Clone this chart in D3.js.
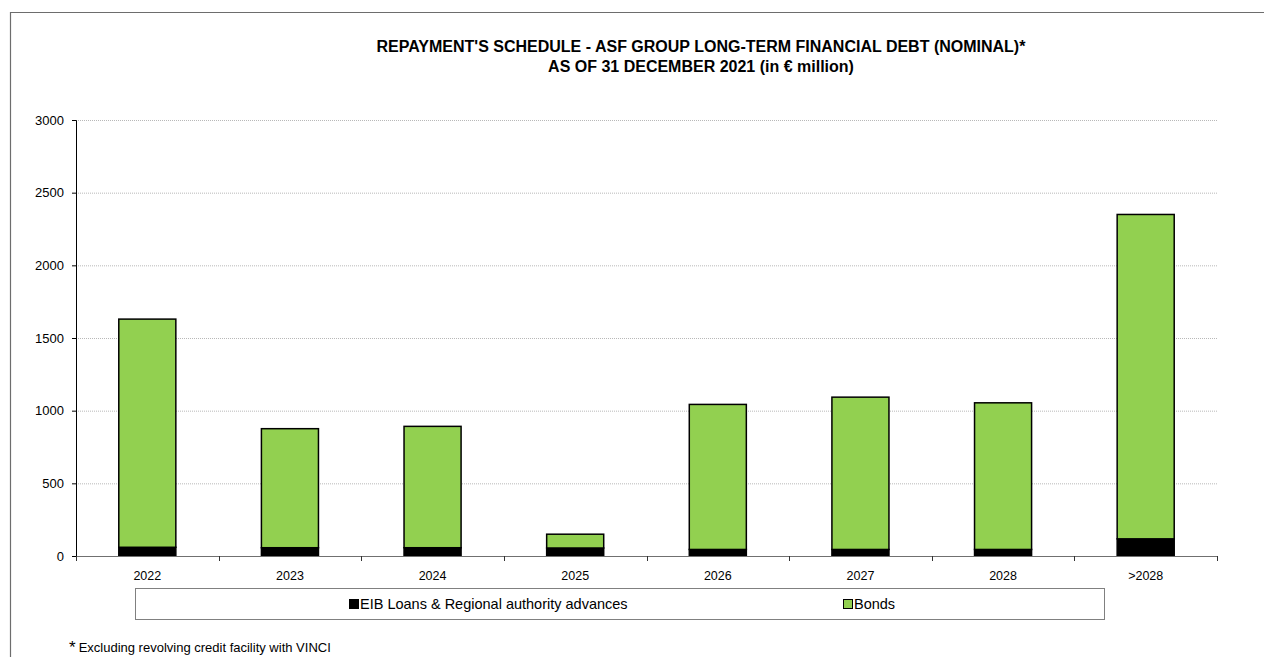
<!DOCTYPE html>
<html>
<head>
<meta charset="utf-8">
<script src="https://cdn.jsdelivr.net/npm/d3@7"></script>
<style>
  body { margin: 0; background: #fff; }
  svg { display: block; font-family: "Liberation Sans", Arial, sans-serif; }
</style>
</head>
<body>
<div id="chart"></div>
<script>
/* ---------- Data (€ million) ---------- */
const categories = ['2022', '2023', '2024', '2025', '2026', '2027', '2028', '>2028'];
const eibLoans   = [60, 57, 57, 55, 45, 45, 45, 118];
const bonds      = [1570, 819, 835, 95, 998, 1048, 1009, 2232];
const yTicks     = [0, 500, 1000, 1500, 2000, 2500, 3000];
const seriesNames = ['EIB Loans & Regional authority advances', 'Bonds'];
const seriesColors = ['#000000', '#92D050'];

/* ---------- Layout ---------- */
const W = 1264, H = 657;
const plot = { left: 76, right: 1217, top: 120, bottom: 556 };
const FONT = '"Liberation Sans", Arial, sans-serif';

const svg = d3.select('#chart').append('svg')
  .attr('width', W).attr('height', H);

// outer frame
svg.append('path')
  .attr('d', `M10.5,${H} V12.5 H${W}`)
  .attr('fill', 'none').attr('stroke', '#6d6d6d').attr('stroke-width', 1.2);

/* ---------- Title ---------- */
const title = svg.append('text')
  .attr('text-anchor', 'middle')
  .attr('font-size', 16).attr('font-weight', 'bold');
title.append('tspan').attr('x', 701).attr('y', 52)
  .text("REPAYMENT'S SCHEDULE - ASF GROUP LONG-TERM FINANCIAL DEBT (NOMINAL)*");
title.append('tspan').attr('x', 701).attr('y', 72)
  .text('AS OF 31 DECEMBER 2021 (in € million)');

/* ---------- Scales ---------- */
const x = d3.scaleBand().domain(categories)
  .range([plot.left, plot.right]).paddingInner(0.6).paddingOuter(0.3);
const y = d3.scaleLinear().domain([0, 3000]).range([plot.bottom, plot.top]);

/* ---------- Gridlines ---------- */
svg.append('g').selectAll('line')
  .data(yTicks.filter(t => t > 0)).enter()
  .append('line')
  .attr('x1', plot.left).attr('x2', plot.right)
  .attr('y1', d => y(d) + 0.5).attr('y2', d => y(d) + 0.5)
  .attr('stroke', '#b8b8b8').attr('stroke-width', 1)
  .attr('stroke-dasharray', '1,1');

/* ---------- Stacked bars ---------- */
const rows = categories.map((c, i) => ({ cat: c, eib: eibLoans[i], bonds: bonds[i] }));
const stack = d3.stack().keys(['eib', 'bonds'])(rows);

svg.append('g').selectAll('g')
  .data(stack).enter()
  .append('g')
  .attr('fill', (d, i) => seriesColors[i])
  .selectAll('rect')
  .data(d => d).enter()
  .append('rect')
  .attr('x', d => x(d.data.cat))
  .attr('y', d => y(d[1]))
  .attr('width', x.bandwidth())
  .attr('height', d => y(d[0]) - y(d[1]))
  .attr('stroke', '#000').attr('stroke-width', 1.5);

/* ---------- Axes ---------- */
const yAxis = svg.append('g')
  .attr('transform', `translate(${plot.left},0)`)
  .call(d3.axisLeft(y).tickValues(yTicks).tickSize(4).tickPadding(8).tickFormat(d3.format('d')));
yAxis.select('.domain').attr('stroke', '#000');
yAxis.selectAll('text').attr('font-size', 13).attr('fill', '#000').attr('font-family', FONT);

const xAxis = svg.append('g')
  .attr('transform', `translate(0,${plot.bottom})`)
  .call(d3.axisBottom(x).tickSize(0).tickPadding(15));
xAxis.select('.domain').attr('stroke', '#707070').attr('d', `M${plot.left},0.5H${plot.right}`);
xAxis.selectAll('text').attr('font-size', 12.5).attr('fill', '#000').attr('font-family', FONT);

// tick marks between categories
const bounds = d3.range(categories.length + 1)
  .map(i => plot.left + i * (plot.right - plot.left) / categories.length);
svg.append('g').selectAll('line')
  .data(bounds).enter()
  .append('line')
  .attr('x1', d => Math.round(d) + 0.5).attr('x2', d => Math.round(d) + 0.5)
  .attr('y1', plot.bottom).attr('y2', plot.bottom + 5)
  .attr('stroke', '#333');

/* ---------- Legend ---------- */
svg.append('rect')
  .attr('x', 135.5).attr('y', 588.5).attr('width', 969).attr('height', 31)
  .attr('fill', '#fff').attr('stroke', '#808080').attr('stroke-width', 1);

const legendX = [349, 843];
const lg = svg.append('g').selectAll('g')
  .data(seriesNames).enter()
  .append('g')
  .attr('transform', (d, i) => `translate(${legendX[i]},604)`);
lg.append('rect')
  .attr('x', 0.5).attr('y', -4.5).attr('width', 9).attr('height', 9)
  .attr('fill', (d, i) => seriesColors[i])
  .attr('stroke', '#000').attr('stroke-width', 1);
lg.append('text')
  .attr('x', 11).attr('y', 5)
  .attr('font-size', 14.5)
  .text(d => d);

/* ---------- Footnote ---------- */
const fn = svg.append('text').attr('x', 69).attr('y', 653);
fn.append('tspan').attr('font-size', 17).text('*');
fn.append('tspan').attr('font-size', 13).attr('dx', 3).attr('dy', -1)
  .text('Excluding revolving credit facility with VINCI');
</script>
</body>
</html>
